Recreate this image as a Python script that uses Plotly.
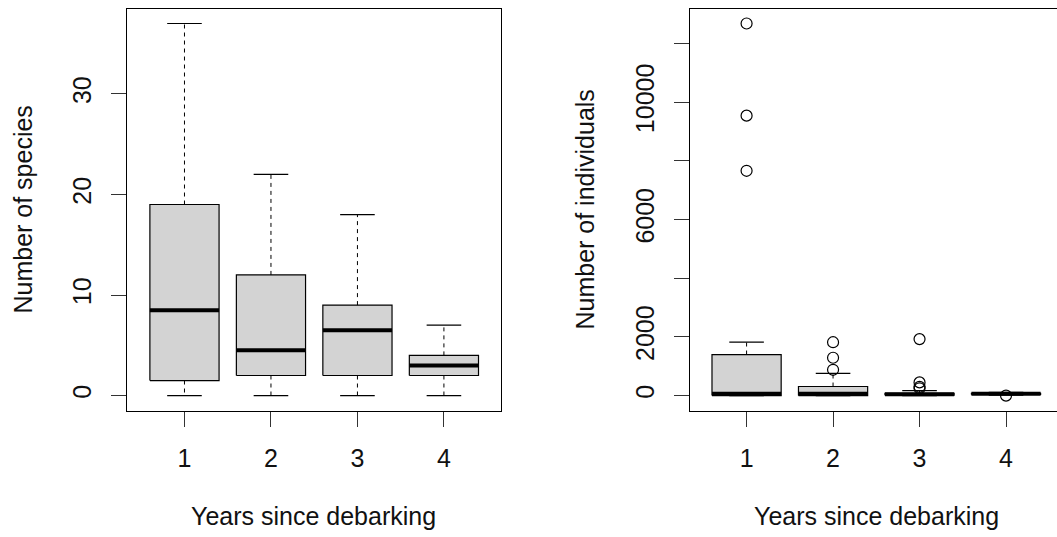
import plotly.graph_objects as go

# ---- data -------------------------------------------------------------
years = [1, 2, 3, 4]
year_labels = ["1", "2", "3", "4"]

# Number of species per group (boxplot statistics)
species_low = [0, 0, 0, 0]
species_q1 = [1.5, 2, 2, 2]
species_median = [8.5, 4.5, 6.5, 3]
species_q3 = [19, 12, 9, 4]
species_high = [37, 22, 18, 7]

# Number of individuals per group (boxplot statistics + outliers)
indiv_low = [0, 0, 0, 20]
indiv_q1 = [0, 0, 15, 40]
indiv_median = [60, 60, 45, 60]
indiv_q3 = [1400, 310, 80, 75]
indiv_high = [1820, 760, 170, 110]
indiv_outliers = [
    [7660, 9540, 12680],
    [880, 1290, 1820],
    [250, 300, 450, 1925],
    [0],
]

species_ticks = [0, 10, 20, 30]
indiv_ticks = [0, 2000, 4000, 6000, 8000, 10000, 12000]
indiv_tick_text = ["0", "2000", "", "6000", "", "10000", ""]

# ---- page geometry (pixels) ------------------------------------------
W, H = 1057, 537
FONT = "Liberation Sans, Arial, sans-serif"
FONT_SIZE = 25
BOX_FILL = "#d3d3d3"
HALF_BOX = 0.4
HALF_CAP = 0.2

plot_top, plot_bottom = 8.6, 410.5
left_x0, left_x1 = 127.4, 501.0
unit_px = (left_x1 - left_x0) / 4.32
right_x0 = 689.5


def px_x(p):
    return p / W


def px_y(p):
    return 1 - p / H


def r_range(lo, hi):
    span = hi - lo
    return [lo - 0.04 * span, hi + 0.04 * span]


def box_traces(xa, ya, low, q1, med, q3, high, outliers=None):
    traces = []
    bx, by = [], []
    wx, wy = [], []
    cx, cy = [], []
    mx, my = [], []
    for i, c in enumerate(years):
        bx += [c - HALF_BOX, c + HALF_BOX, c + HALF_BOX, c - HALF_BOX, c - HALF_BOX, None]
        by += [q1[i], q1[i], q3[i], q3[i], q1[i], None]
        wx += [c, c, None, c, c, None]
        wy += [q3[i], high[i], None, q1[i], low[i], None]
        cx += [c - HALF_CAP, c + HALF_CAP, None, c - HALF_CAP, c + HALF_CAP, None]
        cy += [high[i], high[i], None, low[i], low[i], None]
        mx += [c - HALF_BOX, c + HALF_BOX, None]
        my += [med[i], med[i], None]
    traces.append(go.Scatter(x=bx, y=by, mode="lines", fill="toself",
                             fillcolor=BOX_FILL, line=dict(color="black", width=1.2),
                             xaxis=xa, yaxis=ya, hoverinfo="skip"))
    traces.append(go.Scatter(x=mx, y=my, mode="lines",
                             line=dict(color="black", width=4),
                             xaxis=xa, yaxis=ya, hoverinfo="skip"))
    traces.append(go.Scatter(x=wx, y=wy, mode="lines",
                             line=dict(color="black", width=1, dash="4px,4px"),
                             xaxis=xa, yaxis=ya, hoverinfo="skip"))
    traces.append(go.Scatter(x=cx, y=cy, mode="lines",
                             line=dict(color="black", width=1.2),
                             xaxis=xa, yaxis=ya, hoverinfo="skip"))
    if outliers:
        ox, oy = [], []
        for c, vals in zip(years, outliers):
            ox += [c] * len(vals)
            oy += vals
        traces.append(go.Scatter(x=ox, y=oy, mode="markers",
                                 marker=dict(symbol="circle-open", size=11,
                                             color="black", line=dict(width=1.2)),
                                 xaxis=xa, yaxis=ya, hoverinfo="skip"))
    return traces


fig = go.Figure()
for t in box_traces("x", "y", species_low, species_q1, species_median,
                    species_q3, species_high):
    fig.add_trace(t)
for t in box_traces("x2", "y2", indiv_low, indiv_q1, indiv_median,
                    indiv_q3, indiv_high, indiv_outliers):
    fig.add_trace(t)

tick_font = dict(family=FONT, size=FONT_SIZE, color="#111111")
common_x = dict(tickvals=years, ticktext=year_labels, ticks="outside", ticklen=15,
                tickcolor="#333333", tickwidth=1, showline=True, mirror=True,
                linecolor="black", linewidth=1, showgrid=False, zeroline=False,
                tickfont=tick_font, ticklabelstandoff=10, fixedrange=True)
common_y = dict(ticks="outside", ticklen=15, tickcolor="#333333", tickwidth=1,
                showline=True, linecolor="black", linewidth=1, showgrid=False,
                zeroline=False, tickfont=tick_font, tickangle=-90,
                ticklabelstandoff=10, fixedrange=True)

y_domain = [px_y(plot_bottom), px_y(plot_top)]
x_min = 0.5 - 0.04 * 4
right_x_max = x_min + (W - right_x0) / unit_px

fig.update_layout(
    width=W, height=H,
    margin=dict(l=0, r=0, t=0, b=0),
    paper_bgcolor="white", plot_bgcolor="white",
    showlegend=False,
    xaxis=dict(domain=[px_x(left_x0), px_x(left_x1)], range=[x_min, 4.5 + 0.16],
               anchor="y", **common_x),
    yaxis=dict(domain=y_domain, range=r_range(0, 37), anchor="x",
               tickvals=species_ticks, ticktext=[str(v) for v in species_ticks],
               mirror=True, **common_y),
    xaxis2=dict(domain=[px_x(right_x0), 1.0], range=[x_min, right_x_max],
                anchor="y2", **common_x),
    yaxis2=dict(domain=y_domain, range=r_range(0, 12680), anchor="x2",
                tickvals=indiv_ticks, ticktext=indiv_tick_text,
                mirror=False, **common_y),
)

title_font = dict(family=FONT, size=FONT_SIZE, color="#111111")
mid_y = (plot_top + plot_bottom) / 2
annotations = [
    dict(text="Number of species", x=px_x(23), y=px_y(mid_y), textangle=-90),
    dict(text="Number of individuals", x=px_x(585), y=px_y(mid_y), textangle=-90),
    dict(text="Years since debarking", x=px_x(313), y=px_y(516)),
    dict(text="Years since debarking", x=px_x(876), y=px_y(516)),
]
for a in annotations:
    fig.add_annotation(xref="paper", yref="paper", showarrow=False,
                       xanchor="center", yanchor="middle", font=title_font, **a)

fig.write_html("out.html")
